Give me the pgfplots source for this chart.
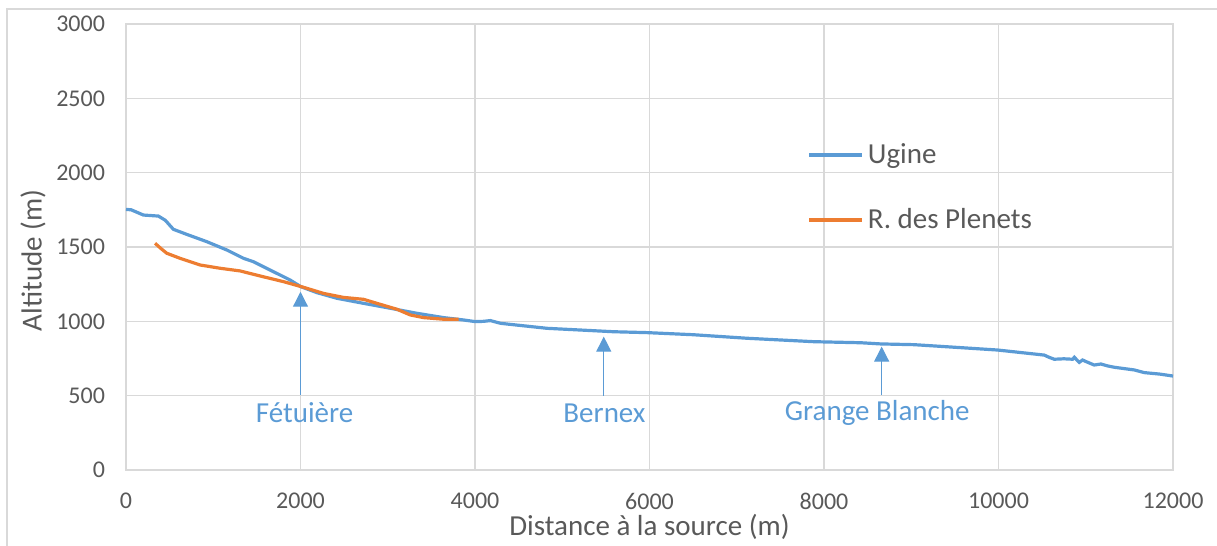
\documentclass[border=0pt]{standalone}
\usepackage{pgfplots}
\pgfplotsset{compat=1.18}
\usepackage{fontspec}
\setmainfont{Carlito}
\usetikzlibrary{arrows.meta}
\definecolor{ugine}{RGB}{91,155,213}
\definecolor{plenets}{RGB}{237,125,49}
\definecolor{gridgray}{RGB}{217,217,217}
\definecolor{labelgray}{RGB}{89,89,89}
\begin{document}
\begin{tikzpicture}
\path[use as bounding box] (-63pt,-38pt) rectangle (545.5pt,235pt);
\draw[gridgray, line width=1pt] (-59.5pt,-40pt) -- (-59.5pt,230.5pt) -- (547pt,230.5pt);
\begin{axis}[
  at={(0pt,0pt)}, anchor=south west,
  scale only axis, width=523.5pt, height=223pt,
  xmin=0, xmax=12000, ymin=0, ymax=3000,
  xtick={0,2000,...,12000}, ytick={0,500,...,3000},
  grid=major,
  major grid style={draw=gridgray, line width=0.6pt},
  axis line style={draw=gridgray, line width=0.6pt},
  tick style={draw=none},
  /pgf/number format/assume math mode=true,
  /pgf/number format/1000 sep={},
  scaled ticks=false,
  ticklabel style={font=\fontsize{12}{14}\selectfont, text=labelgray},
  xticklabel style={yshift=-8pt},
  yticklabel style={xshift=-7pt},
  xlabel={Distance à la source (m)},
  ylabel={Altitude (m)},
  label style={font=\fontsize{14.5}{17}\selectfont, text=labelgray},
  xlabel style={at={(axis description cs:0.5,-0.128)}, anchor=center},
  ylabel style={at={(axis description cs:-0.0888,0.47)}, anchor=center, rotate=0},
  legend style={draw=none, fill=none, font=\fontsize{14.5}{17}\selectfont, text=labelgray,
    at={(axis description cs:0.645,0.751)}, anchor=north west, row sep=17pt},
  legend cell align=left,
  legend image code/.code={\draw[#1, line width=1.6pt] (0pt,0pt) -- (26.5pt,0pt);},
]
\addplot[ugine, line width=1.6pt] coordinates {
(0,1753) (60,1750) (199,1715) (371,1708) (450,1680) (543,1619) (696,1585)
(925,1536) (1155,1480) (1346,1424) (1461,1401) (1652,1345) (1881,1278)
(2004,1233) (2188,1193) (2417,1155) (2723,1121) (3029,1088) (3335,1054)
(3640,1025) (3870,1009) (4004,998) (4100,1000) (4176,1005) (4291,987)
(4350,983) (4826,953) (5590,930) (5973,924) (6500,910) (7121,886)
(7885,863) (8420,856) (8650,848) (9032,843) (9568,823) (9989,807)
(10524,773) (10580,758) (10639,745) (10750,748) (10850,745) (10869,758)
(10926,724) (10964,740) (11000,730) (11097,706) (11174,713) (11250,700)
(11327,691) (11556,673) (11671,655) (11850,645) (12000,632)
};
\addlegendentry{Ugine}
\addplot[plenets, line width=1.6pt] coordinates {
(333,1525) (400,1490) (467,1458) (619,1424) (849,1379) (1078,1357)
(1308,1339) (1537,1305) (1805,1267) (2034,1229) (2263,1188) (2493,1161)
(2723,1148) (2876,1121) (3106,1081) (3258,1043) (3411,1025) (3640,1014)
(3812,1014)
};
\addlegendentry{R. des Plenets}
\draw[ugine, line width=0.6pt, -{Triangle[width=7.5pt,length=7.5pt]}] (axis cs:2000,505) -- (axis cs:2000,1199);
\draw[ugine, line width=0.6pt, -{Triangle[width=7.5pt,length=7.5pt]}] (axis cs:5476,498) -- (axis cs:5476,897);
\draw[ugine, line width=0.6pt, -{Triangle[width=7.5pt,length=7.5pt]}] (axis cs:8661,504) -- (axis cs:8661,830);
\node[text=ugine, font=\fontsize{14.5}{17}\selectfont] at (axis cs:2047,383) {Fétuière};
\node[text=ugine, font=\fontsize{14.5}{17}\selectfont] at (axis cs:5484,383) {Bernex};
\node[text=ugine, font=\fontsize{14.5}{17}\selectfont] at (axis cs:8610,383) {Grange Blanche};
\end{axis}
\end{tikzpicture}
\end{document}
